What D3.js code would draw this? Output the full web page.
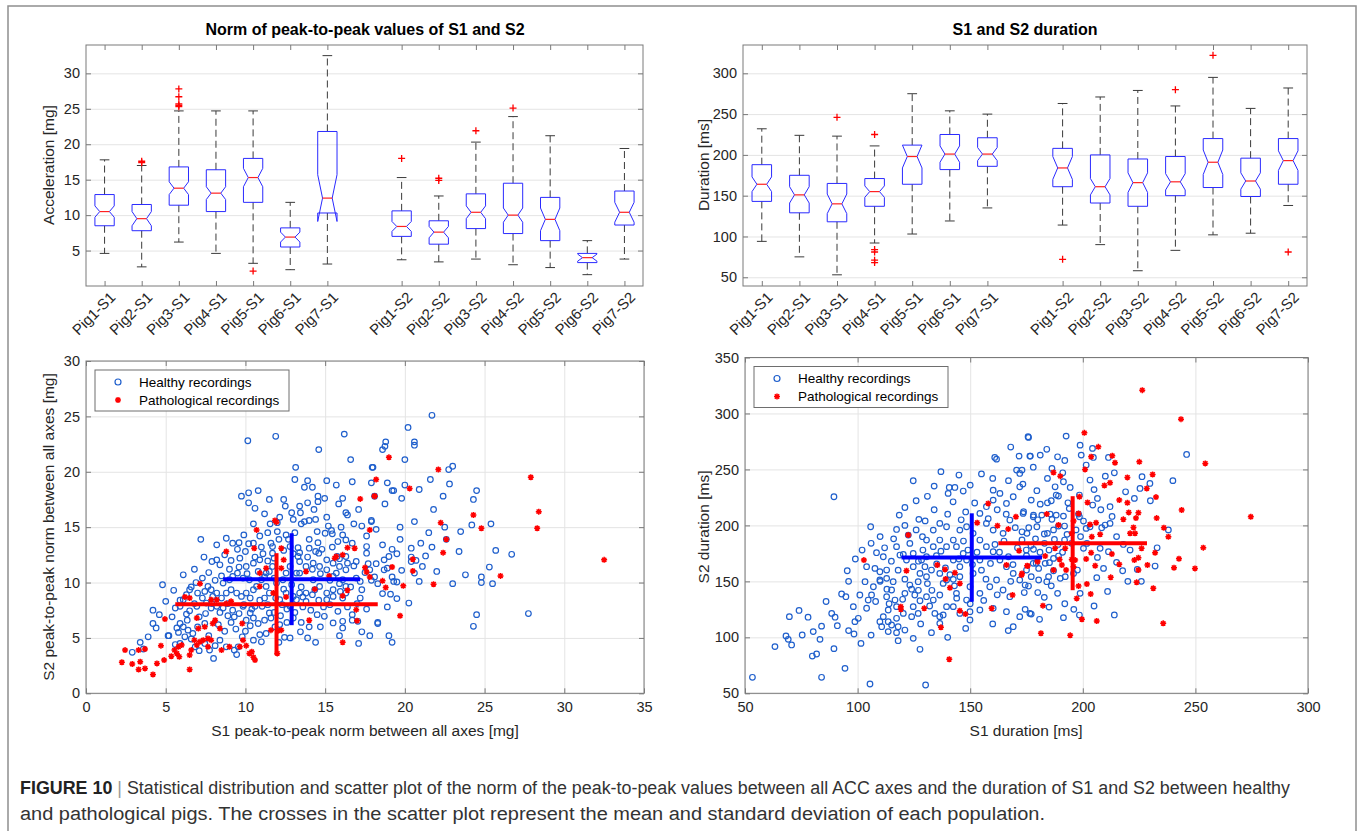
<!DOCTYPE html>
<html><head><meta charset="utf-8">
<script src="https://cdn.jsdelivr.net/npm/d3@7"></script>
<style>body{margin:0;background:#fff}svg text{font-family:"Liberation Sans",Arial,Helvetica,sans-serif}</style>
</head><body>
<script>
// ---------------- DATA ----------------
const s1Cats = ["Pig1-S1","Pig2-S1","Pig3-S1","Pig4-S1","Pig5-S1","Pig6-S1","Pig7-S1"];
const s2Cats = ["Pig1-S2","Pig2-S2","Pig3-S2","Pig4-S2","Pig5-S2","Pig6-S2","Pig7-S2"];
const boxCats = s1Cats.concat(s2Cats);

// Acceleration (norm of peak-to-peak) box statistics [mg]
const accWhiskLo = [4.6, 2.7, 6.2, 4.6, 3.2, 2.3, 3.1, 3.7, 3.4, 3.8, 3.0, 2.6, 1.6, 3.8];
const accQ1      = [8.5, 7.8, 11.4, 10.5, 11.8, 5.5, 10.3, 7.0, 5.9, 8.1, 7.4, 6.4, 3.3, 8.6];
const accMedian  = [10.5, 9.5, 13.8, 13.1, 15.3, 6.9, 12.4, 8.4, 7.6, 10.4, 10.0, 9.4, 4.0, 10.4];
const accQ3      = [12.9, 11.5, 16.8, 16.4, 18.0, 8.2, 21.8, 10.6, 9.2, 13.0, 14.5, 12.5, 4.6, 13.4];
const accWhiskHi = [17.8, 17.0, 24.7, 24.7, 24.7, 11.8, 32.5, 15.3, 12.7, 20.3, 23.9, 21.2, 6.4, 19.4];
const accNotch   = [0.8, 1.0, 0.9, 0.9, 1.3, 0.7, 3.3, 0.7, 0.8, 0.9, 1.0, 1.6, 0.5, 1.4];
const accOutliers = [[], [17.4, 17.6], [25.3, 25.5, 25.7, 26.7, 27.8], [], [2.1], [], [],
                     [18.0], [14.9, 15.2], [21.9], [25.1], [], [], []];
const accTicks = [5, 10, 15, 20, 25, 30];

// Duration box statistics [ms]
const durWhiskLo = [94, 75, 53, 92, 103, 119, 135, 114, 90, 58, 83, 102, 104, 138];
const durQ1      = [143, 129, 118, 137, 164, 182, 186, 161, 141, 137, 150, 160, 149, 164];
const durMedian  = [164, 151, 140, 155, 198, 201, 201, 184, 161, 166, 167, 191, 168, 193];
const durQ3      = [188, 175, 165, 171, 212, 225, 221, 208, 200, 195, 198, 220, 196, 220];
const durWhiskHi = [232, 224, 223, 211, 275, 254, 250, 263, 271, 279, 260, 295, 257, 282];
const durNotch   = [9, 10, 12, 7, 14, 10, 8, 14, 10, 12, 10, 15, 10, 12];
const durOutliers = [[], [], [246], [225, 84, 81, 71, 68], [], [], [],
                     [72], [], [], [280], [322], [], [81]];
const durTicks = [50, 100, 150, 200, 250, 300];

// Scatter: S1 vs S2 peak-to-peak norm [mg]
const accHealthy = [
[21.7,25.1],[20.2,24.0],[18.8,22.7],[18.75,22.3],[18.6,22.0],[20.6,22.7],[20.6,22.4],[20.0,21.1],[18.0,20.4],[22.75,20.2],[23.0,20.5],[21.6,19.3],[18.9,19.0],[20.0,18.8],[20.9,18.4],[22.8,18.9],[19.2,18.3],[19.3,18.3],[18.1,17.8],[18.75,17.1],[19.8,17.6],[22.4,17.8],[24.5,18.3],[24.3,17.5],[17.9,15.6],[20.6,15.5],[19.7,15.0],[24.2,15.2],[25.4,15.3],[21.5,14.5],[19.7,13.9],[22.6,13.9],[21.0,13.55],[21.7,13.2],[19.2,13.0],[19.0,12.35],[18.7,12.05],[20.4,13.1],[20.4,12.3],[20.7,12.0],[20.4,11.9],[23.4,12.8],[25.7,12.9],[26.7,12.55],[21.1,11.45],[20.6,10.85],[18.9,11.3],[18.7,11.15],[19.2,10.5],[19.3,10.1],[19.5,10.05],[18.1,10.5],[17.9,10.2],[18.3,9.9],[20.9,10.1],[23.0,9.9],[25.3,11.4],[24.8,10.5],[24.8,10.0],[25.5,9.9],[18.6,9.0],[19.1,8.95],[19.5,8.55],[20.25,8.15],[18.3,6.4],[19.0,5.2],[19.2,4.6],[24.5,7.1],[24.3,6.05],[27.75,7.2],
[16.2,23.4],[11.9,23.2],[10.15,22.8],[14.6,22.0],[16.6,21.1],[17.95,20.4],[13.15,20.4],[13.1,19.3],[13.9,19.2],[15.1,19.2],[16.7,19.1],[15.7,18.8],[17.9,19.0],[13.7,18.6],[14.2,18.6],[10.8,18.3],[10.2,18.1],[9.75,17.8],[10.2,17.2],[11.5,17.5],[12.4,17.5],[14.55,17.8],[14.97,17.6],[14.55,17.3],[13.9,17.2],[16.1,17.6],[15.85,17.1],[12.5,16.9],[13.4,16.9],[12.9,16.3],[13.45,16.3],[16.3,16.3],[16.4,16.1],[15.1,15.9],[12.15,15.9],[11.55,15.3],[12.0,15.4],[10.5,15.3],[11.4,14.5],[13.5,15.3],[13.7,15.5],[14.0,15.6],[14.4,15.7],[16.8,15.3],[17.3,15.1],[17.9,15.5],[10.9,14.2],[10.5,13.55],[10.2,13.5],[9.6,13.6],[9.2,13.55],[7.2,13.9],[6.8,11.2],[8.2,12.05],[9.65,12.2],[9.1,12.0],
[11.6,13.55],[11.7,13.25],[11.7,12.65],[11.8,12.2],[11.4,11.95],[11.7,11.45],[11.5,11.0],[12.1,13.9],[12.55,14.3],[12.7,13.9],[12.8,13.25],[13.3,13.15],[13.4,12.7],[13.3,12.35],[13.4,11.9],[14.0,13.9],[14.55,13.6],[14.0,13.1],[14.4,12.8],[14.6,12.65],[14.5,14.6],[15.0,14.45],[15.4,14.7],[15.45,14.4],[16.1,14.3],[16.3,13.85],[16.7,13.55],[15.45,13.2],[15.75,12.35],[15.9,12.15],[16.3,12.35],[16.4,11.75],[16.95,11.9],[16.8,11.5],[17.6,13.25],[17.6,12.65],[17.7,11.7],[17.8,11.15],
[15.1,11.15],[15.5,10.55],[15.7,10.85],[16.1,10.25],[16.3,9.65],[16.95,10.4],[14.25,10.25],[14.65,9.65],[14.35,9.35],[15.1,9.05],[15.5,9.35],[15.95,9.2],[16.3,9.05],[17.3,9.35],[17.2,8.6],[16.1,8.6],[15.5,8.75],[15.1,8.45],[14.6,8.4],[13.8,9.05],[13.4,9.05],[13.0,8.75],[13.2,8.45],[12.8,7.85],[14.95,6.95],[15.5,6.35],[16.1,6.5],[16.7,6.6],[17.05,6.5],[14.0,6.0],[13.5,6.4],[14.7,6.0],[15.9,5.2],[16.1,5.9],[17.3,5.55],[18.3,6.3],[12.8,5.0],[12.45,5.05],[13.45,5.55],[13.0,6.8],[12.6,6.4],[12.15,6.2],
[12.15,8.45],[12.55,9.05],[11.5,9.05],[11.2,8.6],[11.05,7.85],[11.5,7.25],[10.6,7.85],[10.3,7.25],[10.05,6.6],[10.5,6.8],[11.6,6.8],[11.85,6.0],[11.3,5.4],[10.9,5.3],[11.0,4.65],[10.5,4.8],[9.8,5.1],[9.55,4.2],[9.45,3.5],[8.8,4.2],[8.4,4.8],[8.0,3.15],[7.75,3.9],[7.45,4.5],[7.1,3.85],[6.85,4.2],[5.9,4.5],[6.2,5.1],[6.4,5.7],[6.7,5.4],[7.0,6.0],[7.45,6.3],[5.2,5.2],[5.8,5.5],[6.1,6.0],[6.35,6.6],[6.3,7.15],[6.5,7.45],
[7.1,6.9],[7.5,7.2],[7.85,7.7],[8.2,7.85],[8.6,7.7],[8.9,8.1],[9.2,7.5],[9.6,7.2],[9.85,7.85],[7.0,9.05],[7.45,9.2],[7.65,9.65],[7.85,9.35],[8.2,9.05],[8.5,8.6],[8.8,9.05],[9.1,9.35],[9.45,9.05],[9.75,8.75],[10.05,9.05],[10.5,9.35],[10.3,8.6],[8.6,9.95],[9.0,10.25],[9.2,10.55],[9.5,10.85],[9.85,10.4],[10.25,10.25],[10.7,9.65],[11.0,10.25],[11.3,10.85],[11.3,9.65],[10.5,11.75],[10.05,11.45],[10.9,12.05],[11.95,9.95],[12.35,10.25],[12.55,10.85],[12.8,11.45],[13.2,10.85],
[13.4,10.85],[13.8,11.45],[14.25,11.75],[14.65,11.45],[15.1,12.05],[15.5,11.75],[15.9,11.45],[16.3,11.15],[4.2,7.5],[4.2,6.3],[4.8,9.8],[3.4,4.6],[2.9,3.7],[5.15,5.2],[5.9,7.85],[6.1,8.45],[6.5,9.35],[7.95,8.75],[7.55,8.15],[6.95,7.85],[5.9,6.3],[5.7,5.9],
[8.3,6.2],[8.7,5.6],[9.1,6.4],[9.4,5.8],[8.9,7.0],[9.3,6.9],[10.0,5.6],[10.3,6.1],[10.8,6.3],[11.2,6.6],[11.8,7.3],[12.2,7.0],[12.6,7.6],[13.1,7.3],[13.6,7.8],[14.1,7.5],[14.5,7.1],[13.8,8.3],[14.2,8.9],[13.5,9.6],[12.9,9.8],[12.4,9.4],[11.8,10.4],[11.2,10.5],[10.8,11.0],[10.1,10.8],[9.6,11.4],[9.0,11.2],[8.5,10.6],[8.1,10.2],[7.7,10.9],[7.3,10.4],[6.9,10.0],[6.6,9.6],[6.3,8.9],[5.9,8.4],[5.6,7.7],[5.4,6.9],[6.8,8.1],[7.3,8.6],[7.9,8.1],[8.4,7.3],[9.9,8.0],[10.4,7.6],[10.9,8.4],[11.4,8.0],[11.9,8.6],[12.3,8.0],[13.6,8.7],[14.9,7.8],[15.3,8.0],[15.8,7.4],[16.4,7.8],[17.0,8.1],[17.6,7.6],[16.7,7.1],[14.7,10.8],[15.3,10.2],[15.9,9.9],[16.6,9.6],[17.2,10.1],[17.5,10.9],[14.2,11.2],[13.9,12.3],[13.0,12.6],[12.4,12.9],[11.1,12.6],[10.6,12.3],[10.0,12.8],[9.5,13.0],[8.7,12.5],[8.4,11.6],[7.9,11.9],[7.4,12.3],[6.1,10.7],[5.5,9.3],[5.0,8.3],[4.6,7.1],[4.4,5.9],[3.9,5.1],[3.6,4.0],[5.6,4.4],[6.6,4.9],[7.7,5.2],[8.1,4.3],[9.3,3.9],[12.1,4.6],[13.9,5.0],[14.4,4.6],[12.0,14.6],[13.1,14.5],[14.8,13.0],[15.8,13.7],[11.0,13.2],[9.9,14.3],[8.8,14.0],[8.2,13.4],[15.2,15.1],[16.0,15.0],[13.0,15.7],[11.2,16.2],[10.6,16.7],[14.3,16.6],[17.1,16.6],[17.6,14.2],[18.2,14.8],[18.6,13.4],[19.5,12.6],[18.2,11.7],[18.9,7.8],[17.8,5.2],[17.1,4.5],[19.8,11.1],[21.3,12.4],[22.0,11.0],[22.5,15.0],[23.5,14.6],[23.8,10.7],[21.8,16.6]
];
const accPatho = [
[19.0,21.3],[22.1,20.2],[18.2,19.3],[20.3,18.5],[18.1,17.8],[27.9,19.5],[28.4,16.4],[28.3,14.9],[24.3,16.1],[24.8,14.9],[22.25,15.4],[22.6,13.9],[22.4,12.7],[32.5,12.05],[20.5,12.1],[19.2,11.4],[20.5,11.05],[18.6,10.15],[18.8,9.55],[19.9,9.7],[21.8,9.85],[26.0,10.6],[19.7,7.0],
[2.45,3.9],[2.9,2.65],[2.25,2.8],[3.3,2.15],[3.7,2.25],[3.4,2.85],[3.3,3.9],[3.7,4.0],[4.2,1.7],[4.45,2.7],[4.9,3.0],[4.7,4.3],[4.95,6.7],[5.35,3.35],[5.55,3.9],[5.8,4.2],[5.7,3.6],[6.0,4.35],[5.85,3.3],[6.5,2.15],[6.5,3.45],[6.6,3.9],[6.95,4.35],[7.15,4.65],[7.35,4.8],[6.8,4.8],[7.05,5.85],[7.65,4.95],[7.85,4.8],[7.95,6.3],[8.1,6.6],[8.4,5.85],[8.5,3.9],[7.65,4.2],
[9.0,4.2],[9.65,4.2],[10.05,4.3],[10.25,3.6],[10.5,3.25],[10.6,3.0],[10.4,3.75],[9.85,4.8],[9.8,6.3],[8.8,8.1],[9.1,8.3],[8.2,8.45],[7.85,8.45],[7.15,9.9],[6.2,8.7],[6.5,8.6],[6.95,6.8],[7.45,6.0],[8.8,12.8],[10.55,13.1],[10.7,14.75],[11.85,15.6],[11.95,15.45],[10.9,10.85],[11.3,11.3],[12.25,11.3],[12.25,13.1],[12.4,12.05],[11.75,9.05],[10.9,9.65],[12.05,5.65],[12.0,3.6],[11.6,5.7],[12.25,5.7],[12.55,8.7],[13.8,11.0],[14.35,9.4],[14.0,6.6],[15.6,12.2],[15.7,12.35],[16.1,12.5],[15.25,10.6],[16.1,8.8],[16.4,9.3],[16.4,13.15],[16.85,13.1],[17.2,17.55],[18.1,17.8],[17.8,14.75],[17.5,11.35],[17.0,6.55],[16.1,4.6],[17.6,10.95],[17.8,10.5],[16.95,7.55]
];
const accHealthyMean = [12.9, 10.3], accHealthySD = [4.3, 4.15];
const accPathoMean = [11.95, 8.05], accPathoSD = [6.35, 4.6];
const accXTicks = [0, 5, 10, 15, 20, 25, 30, 35];
const accYTicks = [0, 5, 10, 15, 20, 25, 30];

// Scatter: S1 vs S2 duration [ms]
const durHealthy = [
[53.3,64.3],[63.3,91.7],[69.7,118.5],[68.2,101.2],[69.2,98.2],[70.7,93.2],[75.4,102.1],[80.3,105.1],[83.3,98.2],[79.9,83.3],[81.8,85.1],[84.0,64.3],[89.5,89.9],[94.4,72.3],[88.5,121.4],[91.0,110.4],[92.9,138.7],[94.8,136.3],[95.4,159.5],[98.1,127.4],[98.8,114.0],[98.4,103.0],[100.3,117.0],[101.5,94.6],[89.5,225.6],[105.5,58.3],[130.2,57.4],[105.8,198.8],[124.7,239.9],
[134.0,235.1],[140.7,233.9],[143.2,233.9],[140.2,228.6],[142.4,221.1],[146.9,230.7],[118.5,209.2],[127.2,205.4],[117.3,196.4],[122.5,191.4],[128.8,189.9],[117.3,181.0],[120.3,174.1],[123.2,183.9],
[108.4,175.6],[111.4,172.0],[107.7,161.6],[109.9,158.6],[112.9,160.1],[104.0,163.1],[103.3,149.7],[101.0,137.8],[104.7,133.3],[106.2,137.8],[107.0,145.2],[109.9,151.2],[112.9,152.7],[115.8,149.7],[115.1,142.3],[112.9,136.3],[116.6,133.3],[117.3,127.4],[113.6,124.4],[111.4,118.5],[109.9,114.0],[113.6,114.0],[110.7,109.5],[115.1,111.0],[118.0,109.5],[121.0,106.5],[120.3,121.4],[124.0,118.5],[126.9,121.4],[124.7,127.4],[127.7,132.7],[130.6,136.3],[125.4,137.8],[121.0,139.3],[123.2,146.7],[126.9,149.7],[130.6,154.2],[132.8,160.1],[129.9,163.1],[128.4,169.0],[135.1,165.5],[136.5,157.1],[138.0,148.2],[139.5,151.2],[142.5,151.8],[136.5,137.8],[133.6,133.3],[134.3,121.4],[136.5,112.5],[136.5,118.5],[132.8,104.2],[124.7,99.1],[127.7,89.3],[117.3,104.2],[113.6,105.1],[117.3,117.0],
[139.5,181.0],[142.5,186.9],[145.4,195.8],[148.4,198.8],[151.3,192.9],[154.3,186.9],[157.2,181.0],[160.2,176.5],[163.2,169.0],[166.1,163.1],[169.1,157.1],[172.0,151.2],[175.0,160.1],[178.0,166.1],[154.3,169.0],[151.3,157.1],[149.9,145.2],[154.3,139.3],[158.7,145.2],[161.7,151.2],[164.6,142.3],[167.6,136.3],[154.3,210.7],[157.2,216.7],[160.2,222.6],[163.2,228.6],[166.1,219.6],[169.1,225.6],[172.0,234.5],[160.2,231.5],[170.6,249.4],[172.0,246.4],[175.7,279.2],[171.7,261.9],[176.5,261.9],[160.9,260.7],[161.7,259.2],[139.5,198.8],[136.5,201.8],[142.5,169.0],[145.4,163.1],[157.2,201.8],[160.2,195.8],[164.6,192.9],[167.6,204.8],[173.5,210.7],[178.0,207.7],[154.3,124.4],[149.9,115.5],[160.2,125.9],[166.1,122.9],[169.1,109.5],[166.9,106.0],[172.0,118.5],[176.5,121.4],
[118.8,173.5],[121.7,169.0],[124.7,163.1],[127.7,157.1],[130.6,172.0],[133.6,181.0],[136.5,186.9],[130.6,186.9],[133.6,195.8],[124.7,175.0],[143.9,181.0],[146.9,175.0],[148.4,169.0],[145.4,154.2],[143.9,139.3],[148.4,133.3],[142.5,127.4],[139.5,127.4],[145.4,121.4],[149.9,122.9],
[175.9,278.6],[192.6,279.8],[198.8,271.7],[199.3,262.8],[204.3,268.8],[204.7,260.7],[211.4,260.7],[176.7,261.9],[181.1,262.8],[188.8,261.3],[246.1,263.4],[201.5,253.9],[203.2,240.5],[214.0,247.0],[226.3,243.5],[225.4,233.0],[229.8,237.5],[186.3,250.9],[191.1,247.0],[191.4,239.0],[194.4,233.9],[184.3,242.0],[173.0,249.4],[173.4,236.9],[179.6,231.0],[187.7,234.5],[188.2,227.1],[189.2,226.2],[198.5,227.1],[204.4,218.2],[206.5,224.1],[212.1,216.7],[222.9,224.1],[177.1,222.6],[181.1,219.0],[184.3,220.2],[193.4,220.2],
[173.7,212.2],[178.1,209.2],[181.8,209.2],[185.5,210.1],[188.2,209.2],[191.4,208.3],[186.3,205.4],[189.2,199.4],[191.9,199.4],[198.1,210.1],[198.5,207.7],[200.3,203.9],[201.5,197.3],[203.2,198.8],[208.4,197.9],[209.9,200.3],[212.1,201.8],[179.6,198.8],[182.9,192.3],[184.3,192.9],[187.4,187.5],[191.9,186.9],[175.2,192.9],[173.0,194.3],[174.9,178.0],[178.1,178.6],[179.3,166.1],[180.4,161.6],[183.3,166.1],[185.2,166.7],[187.0,170.5],[189.2,172.6],[187.0,159.5],[184.8,154.2],[184.0,149.7],[180.4,151.2],[177.1,154.2],[174.4,146.7],[175.9,145.8],[188.8,139.3],[191.4,117.6],[198.5,119.9],[182.9,135.7],[174.4,125.0],[177.1,120.8],[180.8,116.1],[198.8,139.3],[200.3,179.5],[201.8,183.9],[207.7,179.5],[211.4,176.5],[206.5,171.4],[209.2,161.6],[206.2,153.3],[217.7,159.5],[224.2,160.7],[232.1,163.7],[197.6,160.1],[195.9,157.1],[192.2,154.2],[190.0,152.7],
[112,180],[115,168],[118,160],[121,152],[124,143],[127,168],[129,178],[131,148],[133,142],[135,173],[137,177],[139,162],[141,156],[143,146],[145,170],[147,186],[149,178],[151,165],[153,176],[155,160],[157,152],[159,166],[161,183],[163,176],[165,186],[167,172],[169,165],[171,180],[173,187],[175,173],[177,182],[179,188],[181,176],[183,184],[185,178],[187,196],[189,183],[191,176],[193,192],[195,184],[197,196],[199,190],[194,215],[186,222],[180,205],[176,198],[170,198],[166,210],[162,214],[158,206],[152,220],[148,212],[146,205],[140,210],[134,214],[130,204],[126,196],[121,200],[116,188],[110,190],[106,184],[102,178],[99,170],[96,150],[104,126],[108,132],[114,130],[120,134],[127,142],[132,128],[138,120],[144,135],[150,130],[156,133],[162,138],[168,150],[174,140],[180,140],[186,146],[192,130],[196,125],[185,127],[160,112],[148,108],[140,100],[128,112],[118,97],[106,102],[96,106],[90,118],[86,132],[84,110],[78,118],[74,124],[110,150],[113,143],[160,242],[167,240],[178,252],[184,268],[192,258],[168,270],[155,246],[150,236],[145,245],[137,248],[131,226],[126,222],[121,216],[205,232],[208,214],[213,208],[219,230],[215,190],[218,183],[221,178],[215,167],[220,150],[211,141],[205,128],[214,120],[226,150],[233,180],[238,196],[230,222],[240,240],[210,244]
];
const durPatho = [
[102.8,169.0],[122.5,191.4],[121.7,159.5],[119.2,127.4],[119.2,125.0],[129.6,125.9],[137.0,108.9],[140.7,80.4],[135.4,164.6],[138.8,160.7],[143.2,157.7],[145.4,148.2],[141.0,144.3],[139.1,152.1],[145.4,123.8],[147.9,120.8],[153.1,202.4],[158.0,219.6],[162.1,199.7],[166.9,196.7],[170.3,207.7],[171.7,177.4],[166.1,164.6],[172.8,155.7],[175.3,164.0],[168.8,137.8],[159.5,125.9],[179.9,169.0],
[226.4,320.8],[243.6,294.9],[254.4,255.4],[200.7,282.7],[206.9,270.2],[203.7,261.3],[213.1,262.2],[214.3,256.0],[201.0,250.0],[187.0,247.3],[190.0,244.0],[219.8,242.9],[231.0,245.5],[228.4,233.0],[225.1,256.8],[209.6,235.7],[212.1,238.1],[216.2,222.6],[219.8,220.2],[232.5,225.3],[202.1,220.5],[198.5,225.6],[198.1,210.7],[243.9,213.7],[274.6,207.7],[220.4,211.6],[218.0,205.4],[223.6,206.5],[224.7,211.3],[232.8,206.5],[222.5,198.2],[221.0,192.9],[223.2,192.9],[236.0,197.9],[238.0,189.9],[203.2,200.9],[205.9,202.4],[207.7,192.0],[204.0,189.9],[184.0,210.1],[189.2,200.3],[195.1,192.9],[195.9,203.9],
[253.5,180.1],[249.8,161.6],[242.7,170.2],[240.5,162.2],[232.1,175.6],[228.7,164.6],[226.1,179.5],[224.7,171.1],[224.7,160.1],[222.9,169.0],[216.2,165.2],[212.9,174.4],[212.4,153.6],[203.7,175.6],[205.5,164.0],[201.5,170.0],[223.9,149.1],[231.3,143.8],[201.8,147.6],[203.5,138.7],[197.3,134.8],[198.1,145.8],[206.2,114.6],[199.6,116.1],[194.4,101.8],[181.4,103.6],[182.3,128.3],[235.7,112.5],[190.7,164.6],[192.6,160.1],[187.0,160.1],[189.7,169.6],[195.1,169.6],[192.2,179.5],[187.7,179.5],[183.3,172.6],[179.9,167.6],[175.5,163.7],[173.0,157.1],[195.9,163.1],[196.6,169.0]
];
const durHealthyMean = [150.7, 171.3], durHealthySD = [31.2, 39.5];
const durPathoMean = [195.5, 184.1], durPathoSD = [33, 42];
const durXTicks = [50, 100, 150, 200, 250, 300];
const durYTicks = [50, 100, 150, 200, 250, 300, 350];

// ---------------- DRAWING ----------------
const W = 1360, H = 831;
const svg = d3.select("body").append("svg").attr("width", W).attr("height", H);
svg.append("rect").attr("width", W).attr("height", H).attr("fill", "#fff");
svg.append("rect").attr("x", 8).attr("y", 6).attr("width", 1348).attr("height", 850)
  .attr("fill", "none").attr("stroke", "#8f8f8f").attr("stroke-width", 1.5);

const TXT = "#262626", AX = "#7a7a7a", GRID = "#e4e4e4";

function frame(x, y, o) {
  const [x0, x1] = x.range(), [yb, yt] = y.range();
  const g = svg.append("g");
  if (o.yGrid) {
    g.append("g").attr("transform", `translate(${x0},0)`)
      .call(d3.axisLeft(y).tickValues(o.yTicks).tickSize(-(x1 - x0)).tickFormat(""))
      .call(s => { s.select(".domain").remove(); s.selectAll("line").attr("stroke", GRID); });
  }
  if (o.xGrid) {
    g.append("g").attr("transform", `translate(0,${yb})`)
      .call(d3.axisBottom(x).tickValues(o.xTicks).tickSize(-(yb - yt)).tickFormat(""))
      .call(s => { s.select(".domain").remove(); s.selectAll("line").attr("stroke", GRID); });
  }
  const st = s => { s.select(".domain").remove(); s.selectAll("line").attr("stroke", AX);
    s.selectAll("text").attr("fill", TXT).attr("font-size", 14.5).attr("font-family", '"Liberation Sans",Arial,sans-serif'); };
  const xb = d3.axisBottom(x).tickSize(-5).tickPadding(o.xPad || 8);
  const xt = d3.axisTop(x).tickSize(-5).tickFormat("");
  if (o.xTicks) { xb.tickValues(o.xTicks); xt.tickValues(o.xTicks); }
  if (o.xFormat) xb.tickFormat(o.xFormat);
  const gxb = g.append("g").attr("transform", `translate(0,${yb})`).call(xb).call(st);
  g.append("g").attr("transform", `translate(0,${yt})`).call(xt).call(st);
  g.append("g").attr("transform", `translate(${x0},0)`)
    .call(d3.axisLeft(y).tickValues(o.yTicks).tickSize(-5).tickPadding(o.yPad || 6)).call(st);
  g.append("g").attr("transform", `translate(${x1},0)`)
    .call(d3.axisRight(y).tickValues(o.yTicks).tickSize(-5).tickFormat("")).call(st);
  g.append("rect").attr("x", x0).attr("y", yt).attr("width", x1 - x0).attr("height", yb - yt)
    .attr("fill", "none").attr("stroke", AX).attr("stroke-width", 1);
  return gxb;
}

function label(text, x, y, rot, size, bold) {
  svg.append("text").attr("transform", `translate(${x},${y}) rotate(${rot || 0})`)
    .attr("text-anchor", "middle").attr("font-size", size || 15).attr("fill", bold ? "#000" : TXT)
    .attr("font-weight", bold ? "bold" : null).text(text);
}

function boxplot(range, yDomain, yRange, stats, ticks) {
  const domain = s1Cats.concat(["gap"], s2Cats);
  const x = d3.scalePoint().domain(domain).range(range).padding(0.5);
  const y = d3.scaleLinear().domain(yDomain).range(yRange);
  const gx = frame(x, y, { yGrid: true, yTicks: ticks, xTicks: boxCats, xFormat: d => d, yPad: 6 });
  gx.selectAll(".tick text").attr("text-anchor", "end").attr("dy", "0.35em").attr("font-size", 15)
    .attr("transform", "translate(4,5) rotate(-45)").attr("y", 5).attr("x", 0);
  const w = x.step() * 0.52, inset = w * 0.25, cap = w * 0.5;
  const g = svg.append("g");
  boxCats.forEach((c, i) => {
    const cx = x(c), L = cx - w / 2, R = cx + w / 2;
    const q1 = y(stats.q1[i]), q3 = y(stats.q3[i]), md = y(stats.med[i]);
    const nLo = y(stats.med[i] - stats.notch[i]), nHi = y(stats.med[i] + stats.notch[i]);
    [[q3, y(stats.hi[i])], [q1, y(stats.lo[i])]].forEach(([a, b]) => {
      g.append("line").attr("x1", cx).attr("x2", cx).attr("y1", a).attr("y2", b)
        .attr("stroke", "#3a3a3a").attr("stroke-dasharray", "7,4");
      g.append("line").attr("x1", cx - cap / 2).attr("x2", cx + cap / 2).attr("y1", b).attr("y2", b)
        .attr("stroke", "#3a3a3a");
    });
    const p = d3.path();
    p.moveTo(L, q1); p.lineTo(L, nLo); p.lineTo(L + inset, md); p.lineTo(L, nHi); p.lineTo(L, q3);
    p.lineTo(R, q3); p.lineTo(R, nHi); p.lineTo(R - inset, md); p.lineTo(R, nLo); p.lineTo(R, q1); p.closePath();
    g.append("path").attr("d", p.toString()).attr("fill", "none").attr("stroke", "#2a2aff").attr("stroke-width", 1);
    g.append("line").attr("x1", L + inset).attr("x2", R - inset).attr("y1", md).attr("y2", md)
      .attr("stroke", "#ff2020").attr("stroke-width", 1.2);
    stats.out[i].forEach(v => {
      const oy = y(v);
      g.append("path").attr("d", `M${cx - 3.5},${oy}h7M${cx},${oy - 3.5}v7`).attr("stroke", "#ff0000").attr("stroke-width", 1.3);
    });
  });
}

boxplot([86, 643], [0, 34], [286, 45],
  { lo: accWhiskLo, q1: accQ1, med: accMedian, q3: accQ3, hi: accWhiskHi, notch: accNotch, out: accOutliers }, accTicks);
label("Norm of peak-to-peak values of S1 and S2", 365, 35, 0, 16, true);
label("Acceleration [mg]", 54, 165, -90, 15.5);

boxplot([743, 1307], [39.3, 334.7], [286, 45],
  { lo: durWhiskLo, q1: durQ1, med: durMedian, q3: durQ3, hi: durWhiskHi, notch: durNotch, out: durOutliers }, durTicks);
label("S1 and S2 duration", 1025, 35, 0, 16, true);
label("Duration [ms]", 709, 165, -90, 15.5);

function asterisk(g, px, py) {
  const r = 3, d = r * 0.72;
  g.append("path").attr("d", `M${px - r},${py}h${2 * r}M${px},${py - r}v${2 * r}M${px - d},${py - d}l${2 * d},${2 * d}M${px - d},${py + d}l${2 * d},${-2 * d}`)
    .attr("stroke", "#ff0000").attr("stroke-width", 1.5);
}

function scatter(xr, yr, xd, yd, xt, yt, healthy, patho, hm, hs, pm, ps, legendPos) {
  const x = d3.scaleLinear().domain(xd).range(xr);
  const y = d3.scaleLinear().domain(yd).range(yr);
  frame(x, y, { xGrid: true, yGrid: true, xTicks: xt, yTicks: yt, xPad: 8, yPad: 6 });
  const g = svg.append("g");
  g.selectAll("circle").data(healthy).join("circle")
    .attr("cx", d => x(d[0])).attr("cy", d => y(d[1])).attr("r", 2.8)
    .attr("fill", "none").attr("stroke", "#1f5fcc").attr("stroke-width", 1.2);
  patho.forEach(d => asterisk(g, x(d[0]), y(d[1])));
  [[hm, hs, "#0000ff"], [pm, ps, "#ff0000"]].forEach(([m, s, c]) => {
    g.append("line").attr("x1", x(m[0] - s[0])).attr("x2", x(m[0] + s[0])).attr("y1", y(m[1])).attr("y2", y(m[1]))
      .attr("stroke", c).attr("stroke-width", 4);
    g.append("line").attr("x1", x(m[0])).attr("x2", x(m[0])).attr("y1", y(m[1] - s[1])).attr("y2", y(m[1] + s[1]))
      .attr("stroke", c).attr("stroke-width", 4);
  });
  const [lx, ly] = legendPos;
  const lg = svg.append("g").attr("transform", `translate(${lx},${ly})`);
  lg.append("rect").attr("width", 194).attr("height", 41).attr("fill", "#fff").attr("stroke", "#6e6e6e");
  lg.append("circle").attr("cx", 23).attr("cy", 12).attr("r", 3).attr("fill", "none").attr("stroke", "#1f5fcc").attr("stroke-width", 1.2);
  asterisk(lg, 23, 30);
  lg.append("text").attr("x", 44).attr("y", 16.5).attr("font-size", 13.5).attr("fill", "#000").text("Healthy recordings");
  lg.append("text").attr("x", 44).attr("y", 34.5).attr("font-size", 13.5).attr("fill", "#000").text("Pathological recordings");
}

scatter([86, 644], [693.3, 361], [0, 35], [0, 30], accXTicks, accYTicks,
  accHealthy, accPatho, accHealthyMean, accHealthySD, accPathoMean, accPathoSD, [95, 370]);
label("S1 peak-to-peak norm between all axes [mg]", 365, 736, 0, 15.5);
label("S2 peak-to-peak norm between all axes [mg]", 54, 527, -90, 15.5);

scatter([745, 1308], [693.3, 357.5], [50, 300], [50, 350], durXTicks, durYTicks,
  durHealthy, durPatho, durHealthyMean, durHealthySD, durPathoMean, durPathoSD, [754, 366.5]);
label("S1 duration [ms]", 1026, 736, 0, 15.5);
label("S2 duration [ms]", 709, 527, -90, 15.5);

const capFont = '"Liberation Sans Narrow","Liberation Sans",Arial,sans-serif';
const cap1 = svg.append("text").attr("x", 20).attr("y", 794).attr("font-size", 18).attr("fill", "#333")
  .attr("font-family", capFont).attr("textLength", 1270).attr("lengthAdjust", "spacingAndGlyphs");
cap1.append("tspan").attr("font-weight", "bold").attr("fill", "#222").text("FIGURE 10");
cap1.append("tspan").attr("fill", "#999").text(" | ");
cap1.append("tspan").text("Statistical distribution and scatter plot of the norm of the peak-to-peak values between all ACC axes and the duration of S1 and S2 between healthy");
svg.append("text").attr("x", 20).attr("y", 820).attr("font-size", 18).attr("fill", "#333")
  .attr("font-family", capFont).attr("textLength", 1025).attr("lengthAdjust", "spacingAndGlyphs")
  .text("and pathological pigs. The crosses in the scatter plot represent the mean and standard deviation of each population.");
</script>
</body></html>
